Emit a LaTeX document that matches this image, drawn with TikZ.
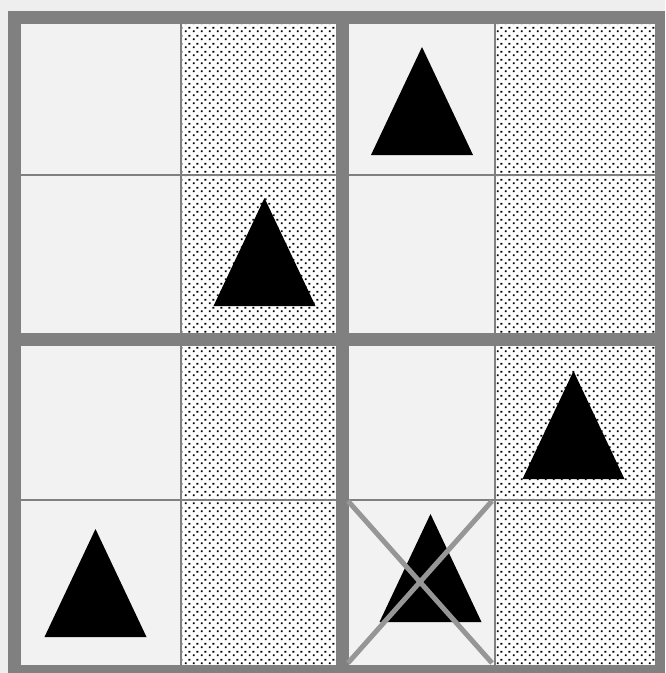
\documentclass[tikz,border=0pt]{standalone}
\usetikzlibrary{patterns.meta}
\definecolor{framegray}{RGB}{128,128,128}
\definecolor{cellgray}{RGB}{242,242,242}
\definecolor{crossgray}{RGB}{150,150,150}
\definecolor{backdrop}{RGB}{238,238,238}
\tikzdeclarepattern{
  name=stipple, type=uncolored,
  bounding box={(0pt,0pt) and (8pt,8pt)},
  tile size={(8pt,8pt)},
  code={
    \fill (1pt,1pt) rectangle (3pt,3pt);
    \fill (5pt,5pt) rectangle (7pt,7pt);
  }
}
\tikzset{
  marker/.pic={\fill (0,0) -- (-51,108) -- (51,108) -- cycle;}
}

\begin{document}
\begin{tikzpicture}[x=1pt, y=-1pt,
  plaincell/.style={fill=cellgray},
  stipplecell/.style={fill=white, postaction={pattern=stipple, pattern color=black}},
  thinrule/.style={draw=framegray, line width=2pt},
  crossline/.style={draw=crossgray, line width=5pt}]
  \useasboundingbox (0,0) rectangle (665,673);
  \fill[backdrop] (0,0) rectangle (665,673);
  \fill[framegray] (8,11) rectangle (665,673);
  % the four columns, in the two bands
  \foreach \xa/\xb/\kind in {21/181/plaincell, 181/336/stipplecell, 349/495/plaincell, 495/655/stipplecell}
    \foreach \ya/\yb in {24/333, 346/665}
      \path[\kind] (\xa,\ya) rectangle (\xb,\yb);
  % thin rules inside the quadrants
  \foreach \xx in {181, 495} {
    \draw[thinrule] (\xx,24) -- (\xx,333);
    \draw[thinrule] (\xx,346) -- (\xx,665);
  }
  \draw[thinrule] (21,175) -- (336,175);
  \draw[thinrule] (349,175) -- (655,175);
  \draw[thinrule] (21,499.5) -- (336,499.5);
  \draw[thinrule] (349,499.5) -- (655,499.5);
  % markers
  \pic at (422,47) {marker};
  \pic at (264.5,198) {marker};
  \pic at (573.5,371) {marker};
  \pic at (95.5,529) {marker};
  \pic at (430.5,514) {marker};
  % crossed-out cell
  \draw[crossline] (348,501) -- (492,663) (492,501) -- (348,663);
\end{tikzpicture}
\end{document}
